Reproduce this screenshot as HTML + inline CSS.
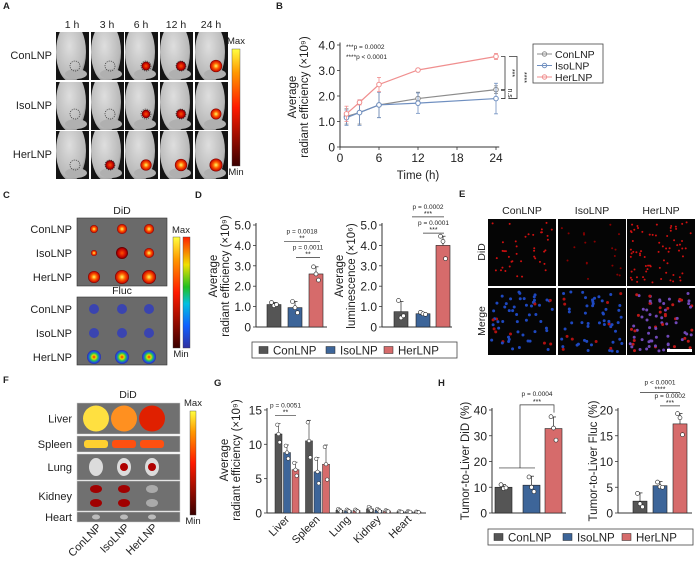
<!DOCTYPE html>
<html><head><meta charset="utf-8">
<style>
html,body{margin:0;padding:0;background:#fff;}
svg{display:block;font-family:"Liberation Sans",Arial,sans-serif;}
</style></head>
<body>
<svg id="fig" width="697" height="561" viewBox="0 0 697 561" xmlns="http://www.w3.org/2000/svg">
<defs>
<linearGradient id="heat" x1="0" y1="1" x2="0" y2="0"><stop offset="0" stop-color="#3a0000"/><stop offset="0.5" stop-color="#ff1a00"/><stop offset="0.8" stop-color="#ff9900"/><stop offset="1" stop-color="#ffff40"/></linearGradient>
<linearGradient id="rainbow" x1="0" y1="1" x2="0" y2="0"><stop offset="0" stop-color="#3030a0"/><stop offset="0.2" stop-color="#1060ff"/><stop offset="0.4" stop-color="#00c0e0"/><stop offset="0.55" stop-color="#20c020"/><stop offset="0.75" stop-color="#f0e000"/><stop offset="1" stop-color="#ff2000"/></linearGradient>
<radialGradient id="spot"><stop offset="0" stop-color="#ffff60"/><stop offset="0.45" stop-color="#ff6000"/><stop offset="0.85" stop-color="#d01000"/><stop offset="1" stop-color="#600000"/></radialGradient>
<radialGradient id="spotR"><stop offset="0" stop-color="#ff5000"/><stop offset="0.7" stop-color="#c00000"/><stop offset="1" stop-color="#500000"/></radialGradient>
<radialGradient id="spotB"><stop offset="0" stop-color="#ff2000"/><stop offset="0.3" stop-color="#e0e000"/><stop offset="0.55" stop-color="#20c060"/><stop offset="0.8" stop-color="#2050e0"/><stop offset="1" stop-color="#3030a0"/></radialGradient>
<radialGradient id="body" cx="0.45" cy="0.4" r="0.7"><stop offset="0" stop-color="#dedede"/><stop offset="0.75" stop-color="#b8b8b8"/><stop offset="1" stop-color="#6a6a6a"/></radialGradient>
</defs>
</svg>
<script>
// ---------- data ----------
const groups=['ConLNP','IsoLNP','HerLNP'];
const bTimes=[1,3,6,12,24];
const bCon=[1.2,1.35,1.65,1.9,2.25];
const bIso=[1.15,1.35,1.65,1.72,1.9];
const bHer=[1.3,1.75,2.45,3.02,3.55];
const bConErr=[0.3,0.45,0.5,0.25,0.15];
const bIsoErr=[0.3,0.5,0.5,0.4,0.6];
const bHerErr=[0.3,0.1,0.28,0.06,0.12];
const bXTicks=[0,6,12,18,24];
const bYTicks=[0,1,2,3,4];
const bYLabels=['0','1.0','2.0','3.0','4.0'];
const dRad=[1.1,0.95,2.6];
const dRadErr=[0.1,0.3,0.35];
const dRadPts=[[1.2,1.05,1.1],[1.25,0.95,0.7],[2.95,2.6,2.3]];
const dLum=[0.75,0.65,4.0];
const dLumErr=[0.5,0.06,0.45];
const dLumPts=[[1.3,0.45,0.55],[0.72,0.65,0.62],[4.45,4.2,3.35]];
const dYTicks=[0,1,2,3,4,5];
const dYLabels=['0','1.0','2.0','3.0','4.0','5.0'];
const gOrgans=['Liver','Spleen','Lung','Kidney','Heart'];
const gCon=[11.5,10.5,0.4,0.6,0.2];
const gIso=[8.8,6.0,0.35,0.4,0.2];
const gHer=[6.3,7.1,0.35,0.3,0.15];
const gConErr=[1.5,3.0,0.2,0.3,0.05];
const gIsoErr=[1.1,2.1,0.15,0.2,0.05];
const gHerErr=[1.1,2.8,0.15,0.1,0.05];
const gYTicks=[0,5,10,15];
const hDid=[10,10.8,32.8];
const hDidErr=[1,3.5,4.5];
const hDidPts=[[11,9.5,9.8],[14,10,8.3],[37.4,33,28.3]];
const hFluc=[2.3,5.3,17.3];
const hFlucErr=[1.6,0.8,2];
const hFlucPts=[[3.8,1.8,1.2],[6,5.1,5],[19.3,18.5,15.2]];
const hDidTicks=[0,10,20,30,40];
const hFlucTicks=[0,5,10,15,20];
const cols={fill:['#555555','#3d6599','#d66b6b'],line:['#8c8c8c','#6f8fc0','#f08f8f']};

// ---------- helpers ----------
const svg=document.getElementById('fig');
const NS='http://www.w3.org/2000/svg';
function mk(tag,attrs,parent){const e=document.createElementNS(NS,tag);for(const k in attrs)e.setAttribute(k,attrs[k]);(parent||svg).appendChild(e);return e;}
function txt(x,y,s,size,anchor,extra){const e=mk('text',Object.assign({x:x,y:y,'font-size':size,'text-anchor':anchor||'start',fill:'#222'},extra||{}));e.textContent=s;return e;}
function lin(x1,y1,x2,y2,c,w){return mk('line',{x1:x1,y1:y1,x2:x2,y2:y2,stroke:c||'#333','stroke-width':w||0.8});}

[['A',3,9],['B',276,9],['C',3,198],['D',195,198],['E',459,197],['F',3,383],['G',214,386],['H',438,386]].forEach(p=>{
  const t=txt(p[1],p[2],p[0],9.5,'start',{'font-weight':'bold'});
  
  
});

// ---------- Panel A ----------
const aColX=[56,91,125,160,195], aRowY=[32,82,131], aTimes=['1 h','3 h','6 h','12 h','24 h'];
const aSpot=[[0.15,0.15,0.4,0.55,0.9],[0,0.3,0.35,0.5,0.7],[0.05,0.5,0.75,0.9,1.0]];
aTimes.forEach((t,i)=>{const e=txt(aColX[i]+16,28,t,10.5,'middle');

});
groups.forEach((g,r)=>{const e=txt(52,aRowY[r]+27,g,11,'end');


aColX.forEach((x,c)=>{
  const cell=mk('svg',{x:x,y:aRowY[r],width:33,height:48,overflow:'hidden'});
  
  
  mk('rect',{x:0,y:0,width:33,height:48,fill:'#141414'},cell);
  mk('ellipse',{cx:15,cy:20,rx:15,ry:30,fill:'url(#body)'},cell);
  mk('ellipse',{cx:20,cy:42,rx:11,ry:5,fill:'#b0b0b0'},cell);
  const s=aSpot[r][c], cx=(c<2?19:21), cy=(r===1?32:34);
  if(s>0.3) mk('circle',{cx:cx,cy:cy,r:3+s*3.5,fill:s>0.6?'url(#spot)':'url(#spotR)'},cell);
  if(s<0.6) mk('circle',{cx:cx,cy:cy,r:5,fill:'none',stroke:'#333','stroke-dasharray':'1.2 1','stroke-width':0.7},cell);
});});
mk('rect',{x:232,y:49,width:8,height:117,fill:'url(#heat)',stroke:'#444','stroke-width':0.4});
txt(236,44,'Max',9.5,'middle');txt(236,175,'Min',9.5,'middle');

// ---------- Panel B ----------
(function(){
const x0=340,y0=147;const xs=t=>x0+t*6.5, ys=v=>y0-v*25.5;
const g=mk('g',{});
lin(x0,ys(4.1),x0,y0,'#333',1);lin(x0,y0,xs(24.5),y0,'#333',1);
bYTicks.forEach((v,i)=>{lin(x0-3,ys(v),x0,ys(v));const e=txt(x0-5,ys(v)+4.5,bYLabels[i],12,'end');

});
bXTicks.forEach(v=>{lin(xs(v),y0,xs(v),y0+3);const e=txt(xs(v),y0+15,String(v),12,'middle');

});
const xt=txt(418,179,'Time (h)',11.5,'middle');
const yt=txt(0,0,'Average',11.5,'middle',{transform:'translate(296,97) rotate(-90)'});
const yt2=txt(0,0,'radiant efficiency (×10⁹)',11.5,'middle',{transform:'translate(308,97) rotate(-90)'});
txt(346,49,'***p = 0.0002',6.5);txt(346,59,'****p < 0.0001',6.5);
[[bCon,bConErr,0],[bIso,bIsoErr,1],[bHer,bHerErr,2]].forEach(([vals,errs,k])=>{
  const c=cols.line[k];
  const pl=mk('polyline',{points:bTimes.map((t,i)=>xs(t)+','+ys(vals[i])).join(' '),fill:'none',stroke:c,'stroke-width':1.2});
  
  
  bTimes.forEach((t,i)=>{
    lin(xs(t),ys(vals[i]-errs[i]),xs(t),ys(vals[i]+errs[i]),c,0.8);
    lin(xs(t)-2,ys(vals[i]+errs[i]),xs(t)+2,ys(vals[i]+errs[i]),c,0.8);
    lin(xs(t)-2,ys(vals[i]-errs[i]),xs(t)+2,ys(vals[i]-errs[i]),c,0.8);
    const p=mk('circle',{cx:xs(t),cy:ys(vals[i]),r:2.3,fill:'#fff',stroke:c,'stroke-width':1});
    
    
  });
});
const bx=xs(24)+5;
mk('polyline',{points:`${bx},${ys(bHer[4])} ${bx+4},${ys(bHer[4])} ${bx+4},${ys(bCon[4])} ${bx},${ys(bCon[4])}`,fill:'none',stroke:'#333','stroke-width':0.8});
mk('polyline',{points:`${bx},${ys(bCon[4])+1} ${bx+4},${ys(bCon[4])+1} ${bx+4},${ys(bIso[4])} ${bx},${ys(bIso[4])}`,fill:'none',stroke:'#333','stroke-width':0.8});
mk('polyline',{points:`${bx+8},${ys(bHer[4])} ${bx+16},${ys(bHer[4])} ${bx+16},${ys(bIso[4])} ${bx+8},${ys(bIso[4])}`,fill:'none',stroke:'#333','stroke-width':0.8});
txt(0,0,'***',7,'middle',{transform:`translate(${bx+9},${(ys(bHer[4])+ys(bCon[4]))/2}) rotate(90)`});
txt(0,0,'n.s.',7,'middle',{transform:`translate(${bx+7},${(ys(bCon[4])+ys(bIso[4]))/2}) rotate(90)`});
txt(0,0,'****',7,'middle',{transform:`translate(${bx+21},${(ys(bHer[4])+ys(bIso[4]))/2}) rotate(90)`});
const lg=mk('g',{});
mk('rect',{x:533,y:44,width:70,height:39,fill:'#fff',stroke:'#444','stroke-width':0.8},lg);
groups.forEach((gname,k)=>{const y=54+k*11.5;
  lin(537,y,552,y,cols.line[k],1);mk('circle',{cx:544.5,cy:y,r:2.2,fill:'#fff',stroke:cols.line[k]},lg);
  const e=txt(555,y+4,gname,10.5);
  
  });
})();

// ---------- Panel C ----------
(function(){
mk('rect',{x:77,y:218,width:90,height:68,fill:'#6a6a6a',stroke:'#333','stroke-width':0.6});
mk('rect',{x:77,y:297,width:90,height:68,fill:'#6a6a6a',stroke:'#333','stroke-width':0.6});
txt(122,214,'DiD',10.5,'middle');txt(122,294,'Fluc',10.5,'middle');
const cx=[94,122,149];
const didR=[[4,5,5],[3,6,5],[6,7,7]];
const ry=[229,253,277], ry2=[309,333,357];
groups.forEach((g,r)=>{
  let e=txt(72,ry[r]+4,g,11,'end');
  
  
  e=txt(72,ry2[r]+4,g,11,'end');
  
  
  cx.forEach((x,c)=>{
    mk('circle',{cx:x,cy:ry[r],r:didR[r][c],fill:(r===1&&c===1)?'url(#spotR)':'url(#spot)'});
    mk('circle',{cx:x,cy:ry2[r],r:r===2?7:5,fill:r===2?'url(#spotB)':'#3a44b0'});
  });
});
mk('rect',{x:173,y:237,width:7,height:111,fill:'url(#heat)',stroke:'#444','stroke-width':0.4});
mk('rect',{x:183,y:237,width:7,height:111,fill:'url(#rainbow)',stroke:'#444','stroke-width':0.4});
txt(181,233,'Max',9.5,'middle');txt(181,357,'Min',9.5,'middle');
})();

// ---------- bar chart helper ----------
function barChart(opt){
  const ys=v=>opt.y0-v*opt.k;
  const g=mk('g',{});
  
  
  lin(opt.x0,ys(opt.ticks[opt.ticks.length-1])-2,opt.x0,opt.y0,'#333',1);
  lin(opt.x0,opt.y0,opt.xEnd,opt.y0,'#333',1);
  opt.ticks.forEach((v,i)=>{lin(opt.x0-3,ys(v),opt.x0,ys(v));
    const e=txt(opt.x0-5,ys(v)+4.5,opt.labels?opt.labels[i]:String(v),12,'end');
    
    });
  opt.vals.forEach((v,i)=>{
    const x=opt.bx[i];
    const r=mk('rect',{x:x,y:ys(v),width:opt.bw,height:opt.y0-ys(v),fill:cols.fill[i%3],stroke:'#222','stroke-width':0.6});
    
    
    const cxm=x+opt.bw/2;
    lin(cxm,ys(v),cxm,ys(v+opt.err[i]),'#222',0.7);lin(cxm-2.5,ys(v+opt.err[i]),cxm+2.5,ys(v+opt.err[i]),'#222',0.7);
    (opt.pts[i]||[]).forEach((p,j)=>{const d=mk('circle',{cx:cxm+(j-1)*2.5,cy:ys(p),r:2,fill:'#fff',stroke:'#222','stroke-width':0.6});
      
      });
  });
  return ys;
}
function ylabel(x,y,s){const e=txt(0,0,s,11.5,'middle',{transform:`translate(${x},${y}) rotate(-90)`});
  
  }
function sig(x1,x2,y,p,stars){lin(x1,y,x2,y,'#333',0.7);if(p)txt((x1+x2)/2,y-8,p,6.5,'middle');txt((x1+x2)/2,y-1,stars,7,'middle');}

// ---------- Panel D ----------
(function(){
const ys=barChart({name:'bar-chart-d-radiant',x0:256,y0:327,k:20.4,xEnd:327,ticks:dYTicks,labels:dYLabels,vals:dRad,err:dRadErr,pts:dRadPts,bx:[267,288,309],bw:14});
ylabel(217,276,'Average');ylabel(229,276,'radiant efficiency (×10⁹)');
sig(284,320,ys(4.2),'p = 0.0018','**');sig(296,320,ys(3.4),'p = 0.0011','**');
const ys2=barChart({name:'bar-chart-d-luminescence',x0:382,y0:327,k:20.4,xEnd:452,ticks:dYTicks,labels:dYLabels,vals:dLum,err:dLumErr,pts:dLumPts,bx:[394,416,436],bw:14});
ylabel(343,276,'Average');ylabel(355,276,'luminescence (×10⁶)');
sig(412,444,ys2(5.4),'p = 0.0002','***');sig(423,444,ys2(4.6),'p = 0.0001','***');
const lg=mk('g',{});
mk('rect',{x:252,y:342,width:205,height:16,fill:'#fff',stroke:'#444','stroke-width':0.8},lg);
[[259,'ConLNP'],[326,'IsoLNP'],[384,'HerLNP']].forEach(([x,s],k)=>{
  mk('rect',{x:x,y:346.5,width:9,height:7,fill:cols.fill[k],stroke:'#222','stroke-width':0.5},lg);
  const e=txt(x+14,354.5,s,11.5);
  
  });
})();

// ---------- Panel E ----------
(function(){
const cx=[488,558,627], ry=[219,288];
const dens=[[40,20,70],[60,60,80]];
groups.forEach((gname,c)=>{
  const e=txt(cx[c]+34,214,gname,10.5,'middle');
  
  
  ry.forEach((y,r)=>{
    const cell=mk('g',{});
    
    
    mk('rect',{x:cx[c],y:y,width:68,height:67,fill:'#050505'},cell);
    let s=(c+1)*97+r*31;
    for(let i=0;i<dens[r][c];i++){
      s=(s*9301+49297)%233280;const px=cx[c]+3+(s/233280)*62;
      s=(s*9301+49297)%233280;const py=y+3+(s/233280)*61;
      let col;
      if(r===0) col=c===1?'#800':'#d01010';
      else col=c===2?(i%3===0?'#c01818':'#7048b8'):(i%6===0?'#b01010':'#1e48c0');
      mk('circle',{cx:px,cy:py,r:r===0?1.0:1.5,fill:col},cell);
    }
  });
});
txt(0,0,'DiD',10.5,'middle',{transform:'translate(485,252) rotate(-90)'});
txt(0,0,'Merge',10.5,'middle',{transform:'translate(485,321) rotate(-90)'});
mk('rect',{x:667,y:349,width:25,height:3,fill:'#fff'});
})();

// ---------- Panel F ----------
(function(){
const rows=[['Liver',403,31],['Spleen',436,16],['Lung',454,26],['Kidney',481,30],['Heart',512,10]];
const cx=[96,124,152];
rows.forEach(([n,y,h],r)=>{
  const e=txt(72,y+h/2+4,n,11,'end');
  
  
  mk('rect',{x:77,y:y,width:103,height:h,fill:'#707070',stroke:'#ccc','stroke-width':0.5});
  cx.forEach((x,c)=>{
    if(n==='Liver') mk('ellipse',{cx:x,cy:y+h/2,rx:13,ry:13,fill:c===0?'#ffe040':c===1?'#ff9020':'#e02000'});
    if(n==='Spleen') mk('rect',{x:x-12,y:y+4,width:24,height:8,rx:3,fill:c===0?'#ffd030':'#ff5010'});
    if(n==='Lung'){mk('ellipse',{cx:x,cy:y+h/2,rx:7,ry:9,fill:'#dcdcdc'});if(c>0)mk('circle',{cx:x,cy:y+h/2,r:4,fill:'#b00000'});}
    if(n==='Kidney'){[y+8,y+22].forEach(k=>mk('ellipse',{cx:x,cy:k,rx:6,ry:4,fill:c===2?'#aaa':'#a00000'}));}
    if(n==='Heart') mk('ellipse',{cx:x,cy:y+5,rx:4,ry:2.5,fill:'#bbb'});
  });
});
txt(128,398,'DiD',10.5,'middle');
mk('rect',{x:190,y:411,width:6,height:104,fill:'url(#heat)',stroke:'#444','stroke-width':0.4});
txt(193,406,'Max',9.5,'middle');txt(193,524,'Min',9.5,'middle');
groups.forEach((g,c)=>{const e=txt(0,0,g,11,'end',{transform:`translate(${cx[c]+6},${528}) rotate(-45)`});

});
})();

// ---------- Panel G ----------
(function(){
const x0=267,y0=513,k=6.87,ys=v=>y0-v*k;
const g=mk('g',{});
lin(x0,ys(15)-2,x0,y0,'#333',1);lin(x0,y0,426,y0,'#333',1);
gYTicks.forEach(v=>{lin(x0-3,ys(v),x0,ys(v));const e=txt(x0-5,ys(v)+4.5,String(v),12,'end');

});
ylabel(228,460,'Average');ylabel(240,460,'radiant efficiency (×10⁹)');
const series=[gCon,gIso,gHer], errs=[gConErr,gIsoErr,gHerErr];
gOrgans.forEach((o,i)=>{
  const gx=275+i*30.5;
  series.forEach((s,j)=>{
    const x=gx+j*8.5,v=s[i];
    const r=mk('rect',{x:x,y:ys(v),width:7,height:y0-ys(v),fill:cols.fill[j],stroke:'#222','stroke-width':0.5});
    
    
    const e=errs[j][i];
    lin(x+3.5,ys(v),x+3.5,ys(v+e),'#222',0.6);lin(x+1.5,ys(v+e),x+5.5,ys(v+e),'#222',0.6);
    [v+e*0.9,v,Math.max(0,v-e*0.8)].forEach((p,q)=>mk('circle',{cx:x+3.5+(q-1)*1.2,cy:ys(p),r:1.8,fill:'#fff',stroke:'#222','stroke-width':0.5}));
  });
  const t=txt(0,0,o,11,'end',{transform:`translate(${gx+15},${520}) rotate(-45)`});
  
  
});
sig(275,296,ys(14.2),'p = 0.0051','**');
})();

// ---------- Panel H ----------
(function(){
const ys=barChart({name:'bar-chart-h-did',x0:492,y0:513,k:2.575,xEnd:566,ticks:hDidTicks,vals:hDid,err:hDidErr,pts:hDidPts,bx:[495,523,545],bw:17});
ylabel(469,461,'Tumor-to-Liver DiD (%)');
mk('polyline',{points:`${499},${ys(17.5)} ${535},${ys(17.5)}`,fill:'none',stroke:'#666','stroke-width':0.8});
mk('polyline',{points:`${520},${ys(17.5)} ${520},${ys(42)} ${554},${ys(42)} ${554},${ys(39)}`,fill:'none',stroke:'#333','stroke-width':0.7});
txt(537,ys(42)-9,'p = 0.0004',6.5,'middle');txt(537,ys(42)-1,'***',7,'middle');
const ys2=barChart({name:'bar-chart-h-fluc',x0:618,y0:513,k:5.15,xEnd:692,ticks:hFlucTicks,vals:hFluc,err:hFlucErr,pts:hFlucPts,bx:[633,653,673],bw:14});
ylabel(597,461,'Tumor-to-Liver Fluc (%)');
sig(640,680,ys2(23.4),'p < 0.0001','****');sig(660,680,ys2(20.8),'p = 0.0002','***');
const lg=mk('g',{});
mk('rect',{x:488,y:529,width:205,height:16,fill:'#fff',stroke:'#444','stroke-width':0.8},lg);
[[494,'ConLNP'],[563,'IsoLNP'],[622,'HerLNP']].forEach(([x,s],k)=>{
  mk('rect',{x:x,y:533.5,width:9,height:7,fill:cols.fill[k],stroke:'#222','stroke-width':0.5},lg);
  const e=txt(x+14,541.5,s,11.5);
  
  });
})();
</script>
</body></html>
